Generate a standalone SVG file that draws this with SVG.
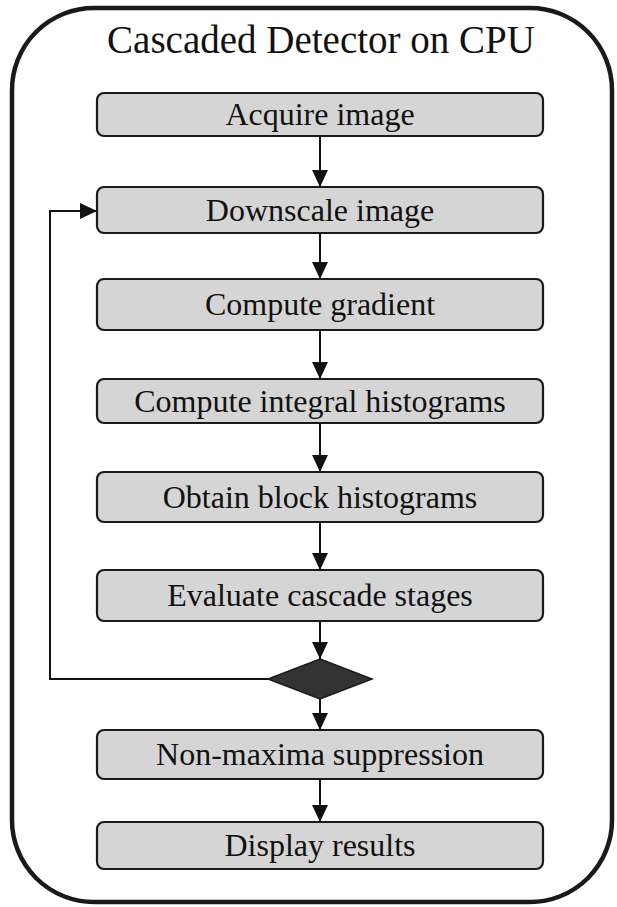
<svg xmlns="http://www.w3.org/2000/svg" width="617" height="907" viewBox="0 0 617 907">
  <defs>
    <marker id="arrow" markerUnits="userSpaceOnUse" markerWidth="17" markerHeight="16" viewBox="0 0 17 16" refX="17" refY="8" orient="auto">
      <path d="M0,0 L17,8 L0,16 Z" fill="#111"/>
    </marker>
  </defs>
  <style>
    .frame { fill: #fff; stroke: #1a1a1a; stroke-width: 4.5; }
    .title { font-family: "Liberation Serif", "Times New Roman", serif; font-size: 39px; fill: #111; text-anchor: middle; }
    .box { fill: #d5d5d5; stroke: #1a1a1a; stroke-width: 2.2; }
    .label { font-family: "Liberation Serif", "Times New Roman", serif; font-size: 32px; fill: #111; text-anchor: middle; }
    .edge { fill: none; stroke: #111; stroke-width: 2; }
    .decision { fill: #333; stroke: #1a1a1a; stroke-width: 1.5; }
  </style>

  <rect width="617" height="907" fill="#fff"/>

  <!-- container -->
  <g id="container">
    <rect class="frame" x="12" y="8" width="600" height="894" rx="82" ry="82"/>
    <text class="title" x="321" y="53">Cascaded Detector on CPU</text>
  </g>

  <!-- process steps -->
  <g id="acquire">
    <rect class="box" x="97" y="93" width="446" height="43" rx="7"/>
    <text class="label" x="320" y="125">Acquire image</text>
  </g>
  <g id="downscale">
    <rect class="box" x="97" y="187" width="446" height="46" rx="7"/>
    <text class="label" x="320" y="221">Downscale image</text>
  </g>
  <g id="gradient">
    <rect class="box" x="97" y="279" width="446" height="51" rx="7"/>
    <text class="label" x="320" y="315">Compute gradient</text>
  </g>
  <g id="integral">
    <rect class="box" x="97" y="379" width="446" height="44" rx="7"/>
    <text class="label" x="320" y="412">Compute integral histograms</text>
  </g>
  <g id="block">
    <rect class="box" x="97" y="472" width="446" height="50" rx="7"/>
    <text class="label" x="320" y="508">Obtain block histograms</text>
  </g>
  <g id="cascade">
    <rect class="box" x="97" y="570" width="446" height="51" rx="7"/>
    <text class="label" x="320" y="606">Evaluate cascade stages</text>
  </g>
  <g id="decision">
    <polygon class="decision" points="320,659 372,679 320,699 268,679"/>
  </g>
  <g id="nms">
    <rect class="box" x="97" y="730" width="446" height="49" rx="7"/>
    <text class="label" x="320" y="765">Non-maxima suppression</text>
  </g>
  <g id="display">
    <rect class="box" x="97" y="822" width="446" height="47" rx="7"/>
    <text class="label" x="320" y="856">Display results</text>
  </g>

  <!-- connectors -->
  <g id="connectors">
    <line class="edge" x1="320" y1="136" x2="320" y2="187" marker-end="url(#arrow)"/>
    <line class="edge" x1="320" y1="233" x2="320" y2="279" marker-end="url(#arrow)"/>
    <line class="edge" x1="320" y1="330" x2="320" y2="379" marker-end="url(#arrow)"/>
    <line class="edge" x1="320" y1="423" x2="320" y2="472" marker-end="url(#arrow)"/>
    <line class="edge" x1="320" y1="522" x2="320" y2="570" marker-end="url(#arrow)"/>
    <line class="edge" x1="320" y1="621" x2="320" y2="659" marker-end="url(#arrow)"/>
    <line class="edge" x1="320" y1="699" x2="320" y2="730" marker-end="url(#arrow)"/>
    <line class="edge" x1="320" y1="779" x2="320" y2="822" marker-end="url(#arrow)"/>
    <polyline class="edge" points="268,679 50,679 50,211 97,211" marker-end="url(#arrow)"/>
  </g>
</svg>
